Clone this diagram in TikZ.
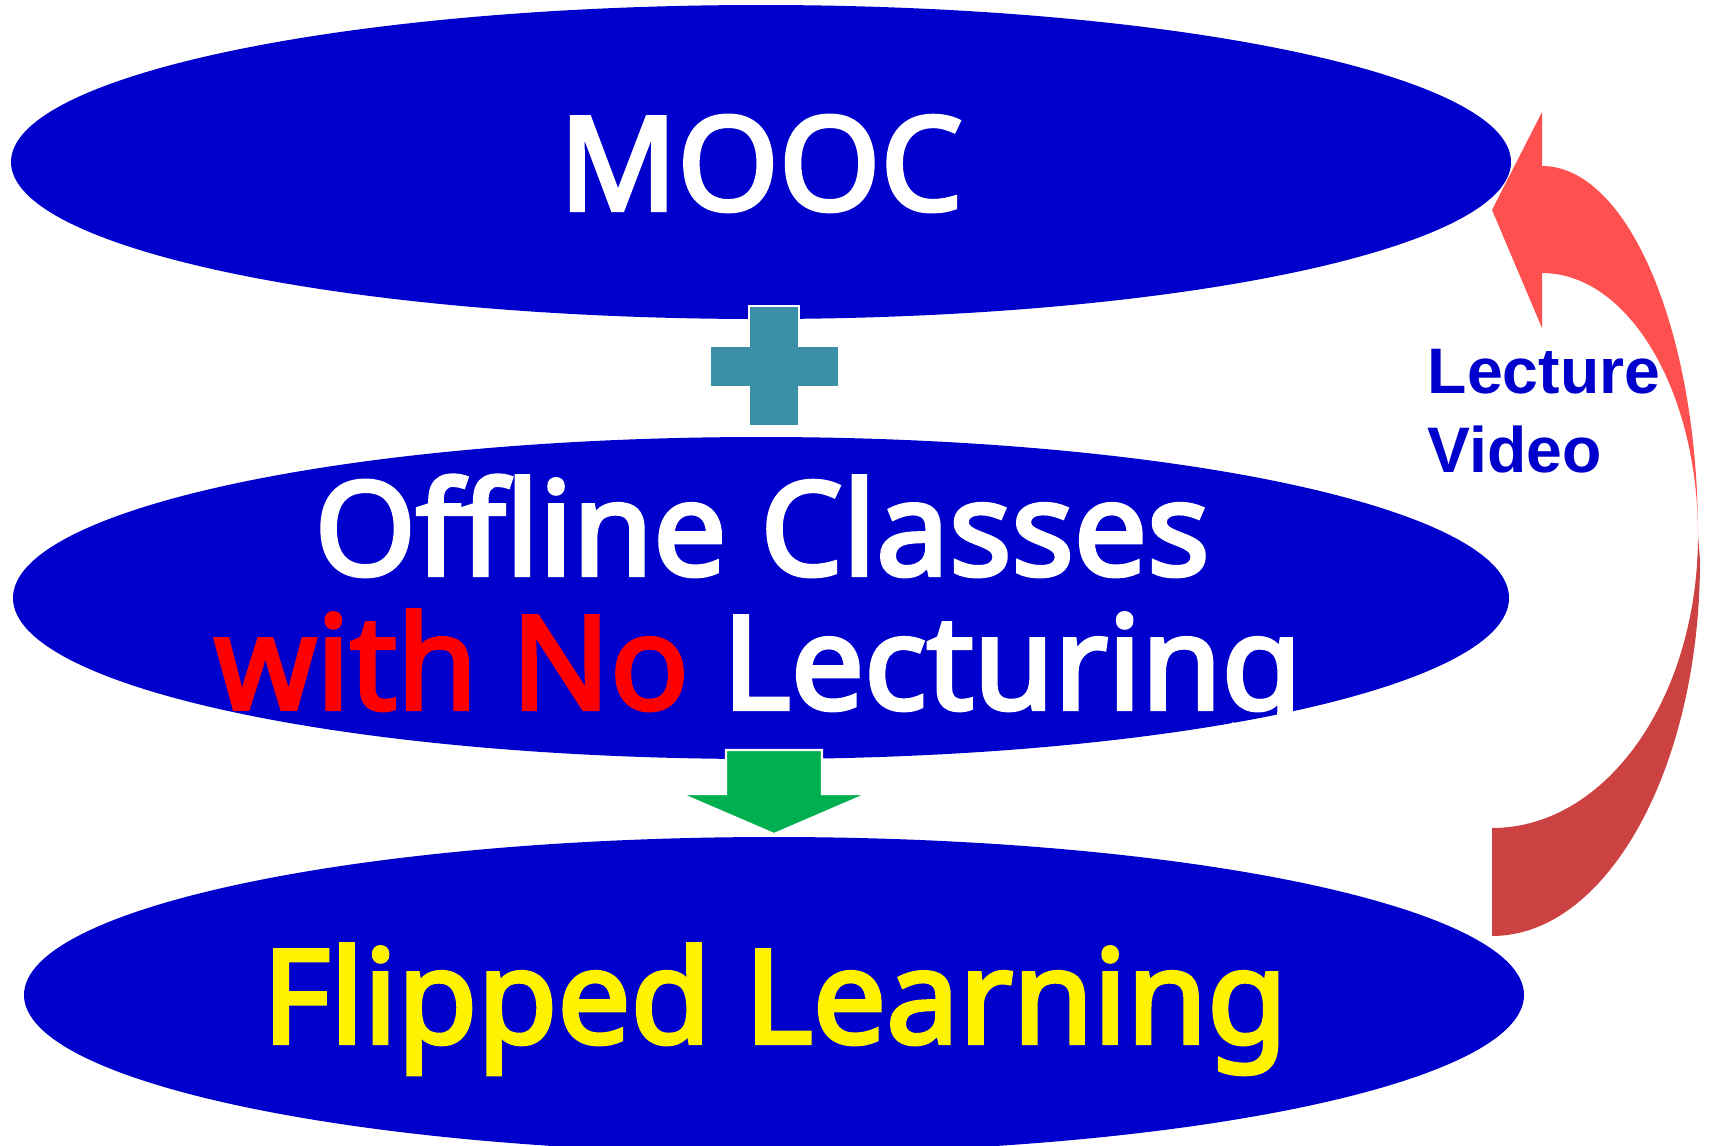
\documentclass[tikz,border=0pt]{standalone}
\usepackage{fontspec}
\setmainfont[AutoFakeBold=3.2,Ligatures=CommonOff]{Noto Sans}
\newfontfamily\lecfont{Liberation Sans}
\definecolor{ovalblue}{HTML}{0000CC}
\definecolor{plusteal}{HTML}{3B8FA6}
\definecolor{downgreen}{HTML}{00B050}
\definecolor{loopred}{HTML}{FF5050}
\definecolor{loopdark}{HTML}{CC4242}

\begin{document}
\begin{tikzpicture}[x=0.01cm,y=-0.01cm,
    oval/.style={fill=ovalblue},
    bigtext/.style={anchor=base,inner sep=0pt,font=\fontsize{37}{44}\selectfont\bfseries},
    sidetext/.style={anchor=base west,inner sep=0pt,text=ovalblue,font=\lecfont\fontsize{18.3}{22}\selectfont\bfseries}]
    \useasboundingbox (0,0) rectangle (1712,1145);
    \clip (0,0) rectangle (1712,1145);

    % the three ovals
    \fill[oval] (761,162) ellipse (750 and 157);
    \fill[oval] (761,598) ellipse (748 and 161);
    \fill[oval] (774,995) ellipse (750 and 158);

    % plus between first and second
    \filldraw[fill=plusteal,draw=white,line width=0.6pt]
        (749,306) -- (799,306) -- (799,346) -- (839,346) -- (839,387) -- (799,387)
        -- (799,426) -- (749,426) -- (749,387) -- (710,387) -- (710,346) -- (749,346) -- cycle;

    % arrow down to the last oval
    \filldraw[fill=downgreen,draw=white,line width=0.6pt]
        (726,750) -- (822,750) -- (822,794) -- (867,794) -- (774,834) -- (681,794) -- (726,794) -- cycle;

    % curved arrow back up, lower band first
    \fill[loopdark] (1698,535) -- (1700,560) .. controls (1700,768) and (1607,936) .. (1492,936)
        -- (1492,828) .. controls (1607,828) and (1698,697) .. (1698,535) -- cycle;
    \fill[loopred] (1492,210) -- (1542,112) -- (1542,166) .. controls (1628,166) and (1698,331) .. (1698,535)
        .. controls (1698,390) and (1628,273) .. (1542,273) -- (1542,328) -- cycle;

    % texts
    \node[bigtext,text=white] (mooc) at (761,210) {MOOC};
    \node[bigtext,text=white] (offline) at (762,575) {Offline Classes};
    \node[bigtext,text=white] (nolect) at (758,709) {\textcolor{red}{with No} Lecturing};
    \node[bigtext,text=yellow] (flipped) at (775,1043) {Flipped Learning};
    \node[sidetext] (lecture) at (1427,393) {Lecture};
    \node[sidetext] (video) at (1427,472) {Video};
\end{tikzpicture}
\end{document}
